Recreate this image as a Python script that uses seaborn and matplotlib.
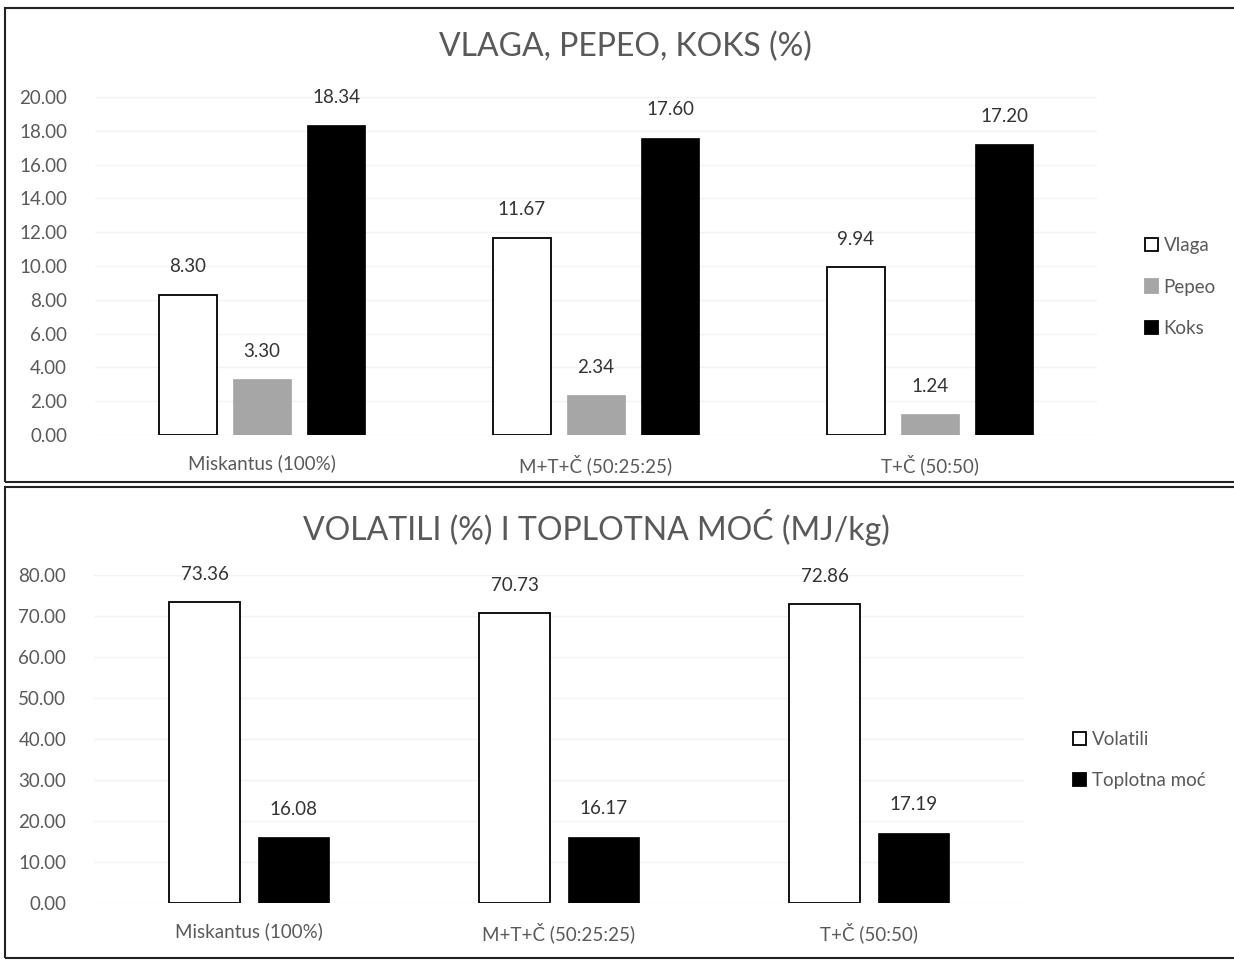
import matplotlib
matplotlib.use("Agg")
import matplotlib.pyplot as plt
import seaborn as sns
import pandas as pd
from matplotlib.patches import Rectangle, Patch

# data
samples = ["Miskantus (100%)", "M+T+Č (50:25:25)", "T+Č (50:50)"]
vlaga = [8.30, 11.67, 9.94]
pepeo = [3.30, 2.34, 1.24]
koks = [18.34, 17.60, 17.20]
volatili = [73.36, 70.73, 72.86]
toplotna_moc = [16.08, 16.17, 17.19]

sns.set_theme(style="white")
plt.rcParams["font.family"] = ["Lato", "DejaVu Sans"]

top = pd.DataFrame({
    "uzorak": samples * 3,
    "serija": ["Vlaga"] * 3 + ["Pepeo"] * 3 + ["Koks"] * 3,
    "vrijednost": vlaga + pepeo + koks,
})
bot = pd.DataFrame({
    "uzorak": samples * 2,
    "serija": ["Volatili"] * 3 + ["Toplotna moć"] * 3,
    "vrijednost": volatili + toplotna_moc,
})

txt = "#595959"
W, H = 1234, 960
fig = plt.figure(figsize=(W / 100, H / 100), dpi=100)

# panel frames
for y0, y1 in [(8, 482), (487, 958)]:
    fig.patches.append(Rectangle((5 / W, 1 - y1 / H), 1.2, (y1 - y0) / H,
                                 transform=fig.transFigure, fill=False,
                                 edgecolor="#222222", linewidth=1.5))

ax1 = fig.add_axes([95 / W, 1 - 435 / H, (1097 - 95) / W, (435 - 97) / H])
ax2 = fig.add_axes([94 / W, 1 - 903 / H, (1024 - 94) / W, (903 - 575) / H])


def draw(ax, df, colors, width, gap, ymax, step, title, title_xy, leg_xy):
    sns.barplot(data=df, x="uzorak", y="vrijednost", hue="serija",
                palette=colors, width=width, gap=gap, ax=ax, zorder=3,
                legend=False)
    for cont, c in zip(ax.containers, colors):
        for p in cont:
            p.set_edgecolor("black" if c == "white" else c)
            p.set_linewidth(1.3 if c == "white" else 0.5)
        ax.bar_label(cont, fmt="%.2f", padding=14, fontsize=13.5,
                     color="#333333", clip_on=False)
    ax.set_ylim(0, ymax)
    ticks = [i * step for i in range(int(ymax / step) + 1)]
    ax.set_yticks(ticks)
    ax.set_yticklabels([f"{t:.2f}" for t in ticks])
    ax.yaxis.grid(True, color="#f3f3f3", linewidth=1, zorder=0)
    ax.set_xlabel("")
    ax.set_ylabel("")
    for s in ax.spines.values():
        s.set_visible(False)
    ax.tick_params(axis="y", length=0, pad=20, labelsize=13.5, labelcolor=txt)
    ax.tick_params(axis="x", length=0, pad=14, labelsize=13.5, labelcolor=txt)
    labels = list(df["serija"].unique())
    handles = [Patch(facecolor=c, edgecolor="black" if c == "white" else c,
                     linewidth=1.3) for c in colors]
    fig.legend(handles, labels, loc="center left",
               bbox_to_anchor=(leg_xy[0] / W, 1 - leg_xy[1] / H),
               frameon=False, fontsize=13.5, labelcolor=txt,
               handlelength=0.7, handleheight=0.7, handletextpad=0.3,
               labelspacing=1.3)
    fig.text(title_xy[0] / W, 1 - title_xy[1] / H, title, ha="center",
             va="center", fontsize=23, color=txt)


draw(ax1, top, ["white", "#a6a6a6", "black"], 0.666, 0.22, 20, 2,
     "VLAGA, PEPEO, KOKS (%)", (625, 47), (1128, 287))
draw(ax2, bot, ["white", "black"], 0.574, 0.21, 80, 10,
     "VOLATILI (%) I TOPLOTNA MOĆ (MJ/kg)", (596, 528), (1056, 760))

fig.savefig("out.png", dpi=100)
